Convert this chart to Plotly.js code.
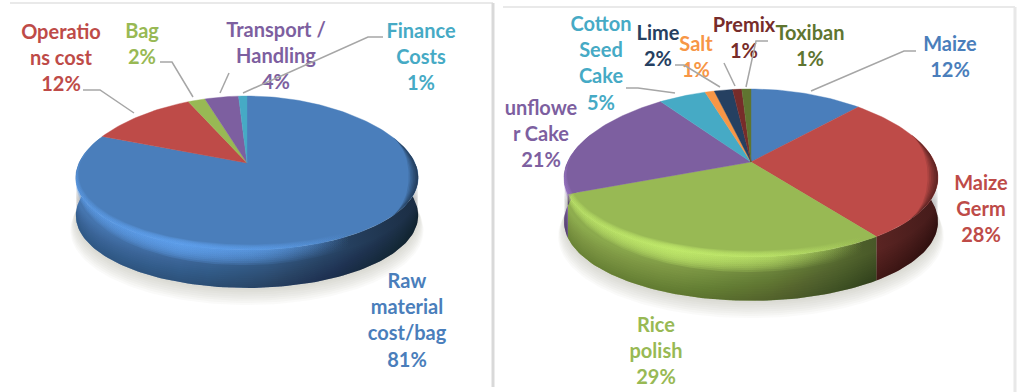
<!DOCTYPE html>
<html>
<head>
<meta charset="utf-8">
<script src="https://cdn.plot.ly/plotly-3.0.1.min.js"></script>
<style>html,body{margin:0;padding:0;background:#fff}#chart{width:1022px;height:392px}</style>
</head>
<body>
<div id="chart"></div>
<script>
// Share of each cost item, clockwise from twelve o'clock.
const costCategories = ['Raw material cost/bag', 'Operations cost', 'Bag', 'Transport / Handling', 'Finance Costs'];
const costValues = [81, 12, 2, 4, 1];
const costColors = ['#4a7ebb', '#be4b48', '#98b954', '#7d5fa0', '#46aac5'];
const costLabelLines = [['Raw', 'material', 'cost/bag'], ['Operatio', 'ns cost'], ['Bag'], ['Transport /', 'Handling'], ['Finance', 'Costs']];

// Share of each feed ingredient, clockwise from twelve o'clock.
const feedCategories = ['Maize', 'Maize Germ', 'Rice polish', 'Sunflower Cake', 'Cotton Seed Cake', 'Salt', 'Lime', 'Premix', 'Toxiban'];
const feedValues = [12, 28, 29, 21, 5, 1, 2, 1, 1];
const feedColors = ['#4a7ebb', '#be4b48', '#98b954', '#7d5fa0', '#46aac5', '#f79646', '#254061', '#772c2a', '#5f7530'];
const feedLabelLines = [['Maize'], ['Maize', 'Germ'], ['Rice', 'polish'], ['unflowe', 'r Cake'], ['Cotton', 'Seed', 'Cake'], ['Salt'], ['Lime'], ['Premix'], ['Toxiban']];

// Label anchors: centre x and the y of the first text line.
const costLabelAt = [[407, 283], [61, 34], [142, 33], [276, 32], [421, 33]];
const feedLabelAt = [[950, 46], [981, 185], [656, 327], [541, 110], [601, 26], [696, 46], [658, 35], [744, 27], [810, 35]];

// Leader lines, drawn as elbows from the label to the rim.
const costLeaders = [[[83, 90], [100, 90], [134, 113]], [[160, 62], [172, 62], [193, 97]], [[229, 73], [220, 93]], [[383, 37], [368, 37], [243, 93]]];
const feedLeaders = [[[916, 51], [904, 51], [811, 91]], [[768, 41], [756, 41], [746, 87]], [[724, 63], [735, 86]], [[675, 65], [684, 65], [720, 87]], [[626, 88], [638, 88], [675, 93]]];

const FONT = 'Lato, Carlito, "Open Sans", sans-serif';
const LINE_STEP = 26.2;
const traces = [];

// Foreshortened disc: the far side is narrower and flatter than the near side.
function rim(p, deg, rho, drop) {
  const a = deg * Math.PI / 180, X = Math.sin(a) * rho, Z = Math.cos(a) * rho;
  return [p.cx + p.R * X * (1 - 0.2 * Z), p.cy - p.h * Z / (1 + 0.13 * Z) + drop];
}
function arc(p, from, to, rho, drop) {
  const n = Math.max(2, Math.ceil(Math.abs(to - from) / 1.5));
  const pts = [];
  for (let i = 0; i <= n; i++) pts.push(rim(p, from + (to - from) * i / n, rho, drop));
  return pts;
}
function polygon(pts, style) {
  traces.push(Object.assign({
    type: 'scatter', mode: 'lines', x: pts.map(q => q[0]), y: pts.map(q => q[1]),
    fill: 'toself', line: {width: 0}, hoverinfo: 'skip', showlegend: false
  }, style));
}
function rgbOf(hex, f) {
  const n = parseInt(hex.slice(1), 16);
  return [(n >> 16) & 255, (n >> 8) & 255, n & 255].map(c => Math.min(255, Math.round(c * f)));
}
function shade(hex, f) {
  return 'rgb(' + rgbOf(hex, f).join(',') + ')';
}
function band(p, from, to, r0, d0, r1, d1) {
  return arc(p, from, to, r0, d0).concat(arc(p, to, from, r1, d1));
}
// Part of a rim crescent; its width fades to nothing at the ends of [lo, hi].
function crescent(p, from, to, lo, hi, inset, drop) {
  const outer = [], inner = [], n = Math.max(2, Math.ceil((to - from) / 1.5));
  for (let i = 0; i <= n; i++) {
    const deg = from + (to - from) * i / n, w = Math.pow(Math.sin(Math.PI * (deg - lo) / (hi - lo)), 1.2);
    outer.push(rim(p, deg, 1, drop * w));
    inner.unshift(rim(p, deg, 1 - inset * w, 0));
  }
  return outer.concat(inner);
}

function drawPie(p, categories, values, colors, lineSets, anchors, leaders) {
  const total = values.reduce((s, v) => s + v, 0);
  const x0 = p.cx - p.R * 1.02, x1 = p.cx + p.R * 1.02;

  // Soft ground shadow under the disc.
  for (let i = 0; i < 8; i++) {
    polygon(arc(p, 0, 360, 1.03 - i * 0.004, p.d + 14 - i * 1.7), {fillcolor: 'rgba(170,164,146,0.06)'});
  }

  // Side wall, one piece per slice, lit from the left.
  let start = 0;
  const spans = values.map(v => { const s = [start, start + v / total * 360]; start = s[1]; return s; });
  spans.forEach((s, i) => {
    const from = Math.max(s[0], 70), to = Math.min(s[1], 290);
    if (to <= from) return;
    polygon(band(p, from, to, 1, 0, 1, p.d), {
      fillcolor: colors[i],
      fillgradient: {type: 'horizontal', start: x0, stop: x1, colorscale: [
        [0, shade(colors[i], 0.94)], [0.3, shade(colors[i], 0.86)],
        [0.55, shade(colors[i], 0.72)], [0.8, shade(colors[i], 0.5)], [1, shade(colors[i], 0.36)]
      ]}
    });
  });

  // Wall darkens towards the ground.
  for (let k = 0; k < 12; k++) {
    polygon(band(p, 70, 290, 1, p.d * (0.35 + k * 0.055), 1, p.d), {fillcolor: 'rgba(0,0,0,0.018)'});
  }

  // Top face.
  spans.forEach((s, i) => {
    const pts = [[p.cx, p.cy]].concat(arc(p, s[0], s[1], 1, 0), [[p.cx, p.cy]]);
    traces.push({
      type: 'scatter', mode: 'lines', x: pts.map(q => q[0]), y: pts.map(q => q[1]), fill: 'toself',
      fillcolor: colors[i], line: {width: 0.4, color: colors[i]}, name: categories[i],
      text: categories[i] + ' ' + values[i] + '%', hoverinfo: 'text', showlegend: false
    });
  });

  // Rounded bevel: a bright, saturated lip on the lit side of every slice.
  spans.forEach((s, i) => {
    const from = Math.max(s[0], 92), to = Math.min(s[1], 282);
    if (to <= from) return;
    const lift = rgbOf(colors[i], 1.28).join(',');
    for (let k = 1; k <= 8; k++) {
      polygon(crescent(p, from, to, 92, 282, 0.007 * k, 1.9 * k), {
        fillcolor: 'rgba(' + lift + ',0.1)',
        fillgradient: {type: 'horizontal', start: x0, stop: x1, colorscale: [
          [0, 'rgba(' + lift + ',0.1)'], [0.3, 'rgba(' + lift + ',0.24)'],
          [0.55, 'rgba(' + lift + ',0.15)'], [0.8, 'rgba(' + lift + ',0)'], [1, 'rgba(' + lift + ',0)']
        ]}
      });
    }
  });
  // Far end of the lip turns dark where it curves away from the light.
  for (let k = 1; k <= 6; k++) {
    polygon(crescent(p, 70, 130, 70, 130, 0.009 * k, 0), {fillcolor: 'rgba(0,0,0,0.1)'});
  }

  // Labels: wrapped category name, then the percentage.
  lineSets.forEach((lines, i) => {
    const all = lines.concat([values[i] + '%']);
    traces.push({
      type: 'scatter', mode: 'text', x: all.map(() => anchors[i][0]), y: all.map((_, j) => anchors[i][1] + j * LINE_STEP),
      text: all, textposition: 'middle center', cliponaxis: false,
      textfont: {family: FONT, size: 20, color: colors[i], weight: 700}, hoverinfo: 'skip', showlegend: false
    });
  });

  leaders.forEach(l => {
    traces.push({
      type: 'scatter', mode: 'lines', x: l.map(q => q[0]), y: l.map(q => q[1]),
      line: {color: '#a6a6a6', width: 1.5}, hoverinfo: 'skip', showlegend: false
    });
  });
}

drawPie({cx: 247, cy: 163, R: 168, h: 75.7, d: 38}, costCategories, costValues, costColors, costLabelLines, costLabelAt, costLeaders);
drawPie({cx: 751, cy: 162, R: 183.5, h: 82.5, d: 44}, feedCategories, feedValues, feedColors, feedLabelLines, feedLabelAt, feedLeaders);

const frameLine = (x0, y0, x1, y1, color, width) => ({type: 'line', x0, y0, x1, y1, layer: 'below', line: {color, width}});

Plotly.newPlot('chart', traces, {
  width: 1022, height: 392, margin: {l: 0, r: 0, t: 0, b: 0},
  paper_bgcolor: '#ffffff', plot_bgcolor: '#ffffff', showlegend: false, hovermode: 'closest',
  xaxis: {range: [0, 1022], visible: false, fixedrange: true},
  yaxis: {range: [392, 0], visible: false, fixedrange: true},
  shapes: [
    frameLine(10, 3, 493, 3, '#e2e2e2', 1.5),
    frameLine(493, 3, 493, 387, '#d9d9d9', 3),
    frameLine(503, 7, 1015, 7, '#e2e2e2', 1.5),
    frameLine(1015, 7, 1015, 392, '#e8e8e8', 3)
  ]
}, {displayModeBar: false, responsive: false});
</script>
</body>
</html>
